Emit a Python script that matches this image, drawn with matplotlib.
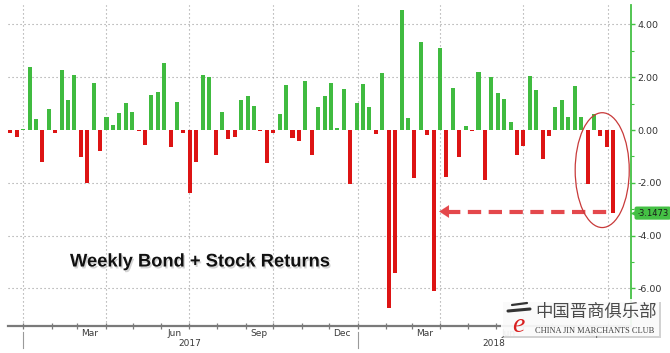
import matplotlib
matplotlib.use("Agg")
import matplotlib.pyplot as plt
import matplotlib.dates as mdates
import matplotlib.patheffects as pe
from matplotlib.patches import Ellipse, FancyBboxPatch
from matplotlib.transforms import blended_transform_factory
import numpy as np
import pandas as pd

plt.rcParams['axes.unicode_minus'] = False
plt.rcParams['font.family'] = ['DejaVu Sans']

# ---------------- data ----------------
week_end = "2018-10-07"
n_weeks = 95
returns = [
    -0.13, -0.25, 0.03, 2.40, 0.42, -1.22, 0.80, -0.10, 2.27, 1.14,
    2.08, -1.03, -2.00, 1.79, -0.78, 0.50, 0.19, 0.66, 1.01, 0.67,
    -0.02, -0.58, 1.33, 1.44, 2.53, -0.63, 1.07, -0.13, -2.40, -1.22,
    2.08, 2.02, -0.95, 0.69, -0.35, -0.25, 1.14, 1.30, 0.91, -0.02,
    -1.24, -0.13, 0.59, 1.70, -0.29, -0.42, 1.86, -0.95, 0.88, 1.30,
    1.77, 0.06, 1.54, -2.05, 1.01, 1.74, 0.88, -0.15, 2.15, -6.75,
    -5.40, 4.55, 0.44, -1.83, 3.35, -0.19, -6.10, 3.09, -1.77, 1.60,
    -1.01, 0.16, -0.02, 2.18, -1.89, 2.02, 1.42, 1.16, 0.29, -0.95,
    -0.59, 2.05, 1.52, -1.08, -0.23, 0.86, 1.14, 0.51, 1.65, 0.51,
    -2.03, 0.59, -0.23, -0.63, -3.1473,
]
y_ticks = [4, 2, 0, -2, -4, -6]
y_tick_labels = ["4.00", "2.00", "0.00", "-2.00", "-4.00", "-6.00"]
month_labels = ["Mar", "Jun", "Sep", "Dec", "Mar", "Jun", "Sep"]
month_label_dates = ["2017-03-15", "2017-06-15", "2017-09-15", "2017-12-15",
                     "2018-03-15", "2018-06-15", "2018-09-15"]
year_labels = ["2017", "2018"]
year_label_dates = ["2017-07-02", "2018-05-30"]
year_starts = ["2017-01-01", "2018-01-01"]
quarter_starts = ["2017-01-01", "2017-04-01", "2017-07-01", "2017-10-01",
                  "2018-01-01", "2018-04-01", "2018-07-01", "2018-10-01"]
title = "Weekly Bond + Stock Returns"
last_label = "-3.1473"

dates = pd.date_range(end=week_end, periods=n_weeks, freq="7D")
vals = np.array(returns)

GREEN = "#40bb40"
RED = "#dd1414"
AXGREEN = "#44c044"

# ---------------- figure ----------------
W, H = 670, 353
fig = plt.figure(figsize=(W / 100, H / 100), dpi=100)
fig.patch.set_facecolor("white")
ax = fig.add_axes([8 / W, 1 - 326 / H, 623 / W, 321 / H])

xnum = mdates.date2num(dates)
colors = [GREEN if v >= 0 else RED for v in vals]
ax.bar(xnum, vals, width=4.4, color=colors, zorder=3, linewidth=0)

ax.set_ylim(-7.424, 4.735)
ax.set_xlim(mdates.date2num(pd.Timestamp("2016-12-15 12:00")),
            mdates.date2num(pd.Timestamp("2018-10-26 10:00")))

# grid
for yv in y_ticks:
    if yv != 0:
        ax.axhline(yv, color="#9a9a9a", lw=0.8, ls=(0, (1, 2.6)), zorder=1)
for q in quarter_starts:
    ax.axvline(mdates.date2num(pd.Timestamp(q)), color="#9a9a9a", lw=0.8,
               ls=(0, (1, 2.6)), zorder=1)

# spines
for s in ["left", "top"]:
    ax.spines[s].set_visible(False)
ax.spines["bottom"].set_color("#7a7a7a")
ax.spines["bottom"].set_linewidth(1.6)
ax.spines["right"].set_color(AXGREEN)
ax.spines["right"].set_linewidth(1.3)

# right y axis
ax.yaxis.tick_right()
ax.set_yticks(y_ticks)
ax.set_yticklabels(y_tick_labels)
ax.set_yticks([3, 1, -1, -3, -5, -7], minor=True)
ax.tick_params(axis="y", which="major", colors=AXGREEN, length=3, width=1,
               pad=1.5, labelsize=6.8, labelcolor="#333333", direction="out")
ax.tick_params(axis="y", which="minor", colors=AXGREEN, length=2, width=0.8,
               direction="out")

# x axis: month ticks, no labels
ax.xaxis.set_major_locator(mdates.MonthLocator(bymonth=[1, 4, 7, 10]))
ax.xaxis.set_minor_locator(mdates.MonthLocator())
ax.xaxis.set_major_formatter(plt.NullFormatter())
ax.tick_params(axis="x", which="both", direction="inout", length=4, width=0.9,
               colors="#7a7a7a")

bt = blended_transform_factory(ax.transData, ax.transAxes)
for lab, d in zip(month_labels, month_label_dates):
    ax.text(mdates.date2num(pd.Timestamp(d)), -7.5 / 321, lab, transform=bt,
            ha="center", va="center", fontsize=6.5, color="#3a3a3a", zorder=1)
for lab, d in zip(year_labels, year_label_dates):
    ax.text(mdates.date2num(pd.Timestamp(d)), -17.5 / 321, lab, transform=bt,
            ha="center", va="center", fontsize=6.5, color="#3a3a3a")
for d in year_starts:
    xd = mdates.date2num(pd.Timestamp(d))
    ax.plot([xd, xd], [-6 / 321, -22 / 321], transform=bt, color="#9a9a9a",
            lw=0.8, clip_on=False)

# last value label on right axis
bty = blended_transform_factory(ax.transAxes, ax.transData)
last_val = vals[-1]
ax.text(1.009, last_val, last_label, transform=bty, ha="left", va="center",
        fontsize=6.0, color="#1a1a1a", zorder=6,
        bbox=dict(boxstyle="round,pad=0.25,rounding_size=0.25",
                  fc=AXGREEN, ec="none"), clip_on=False)
ax.plot([1.005], [last_val], marker="<", ms=5.5, color=AXGREEN,
        transform=bty, clip_on=False, zorder=6, mec="none")

# highlight ellipse around latest weeks
ell_center = mdates.date2num(dates[-3]) + 2
ax.add_patch(Ellipse((ell_center, -1.52), width=59, height=4.35,
                     fill=False, ec="#c83a3a", lw=0.9, zorder=5))

# dashed arrow from last value back to the Feb/Mar 2018 low
arrow_tip = mdates.date2num(dates[66]) + 6
arrow_end = mdates.date2num(dates[-1]) - 4
ax.plot([arrow_tip + 9, arrow_end], [last_val + 0.06] * 2, color="#e4484c",
        lw=3.0, ls=(0, (3.2, 1.8)), solid_capstyle="butt", zorder=4)
ax.annotate("", xy=(arrow_tip, last_val + 0.06),
            xytext=(arrow_tip + 10, last_val + 0.06),
            arrowprops=dict(arrowstyle="-|>,head_length=0.7,head_width=0.45",
                            color="#e4484c", lw=0.1, shrinkA=0, shrinkB=0),
            zorder=4)

# title text
fig.text(70 / W, 1 - 262 / H, title, ha="left", va="center",
         fontsize=13.2, fontweight="bold", color="#111111",
         family="Liberation Sans",
         path_effects=[pe.SimplePatchShadow(offset=(1.0, -1.4), alpha=0.25,
                                            shadow_rgbFace="#555555"),
                       pe.Normal()])

# watermark box
wm_ax = fig.add_axes([0, 0, 1, 1], facecolor="none")
wm_ax.set_xlim(0, W)
wm_ax.set_ylim(H, 0)
wm_ax.axis("off")
wm_ax.add_patch(FancyBboxPatch((503, 302), 158, 36, boxstyle="square,pad=0",
                               fc="#7f7f7f", ec="none", alpha=0.35))
wm_ax.add_patch(FancyBboxPatch((501, 299), 158, 37, boxstyle="square,pad=0",
                               fc="white", ec="none", alpha=0.9))
wm_ax.text(596, 312, "中国晋商俱乐部", ha="center", va="center",
           fontsize=12.5, color="#4a4a4a",
           family=["Noto Sans CJK SC", "DejaVu Sans"])
wm_ax.text(595, 331, "CHINA JIN MARCHANTS CLUB", ha="center", va="center",
           fontsize=6.0, color="#3f3f3f", family="Liberation Serif")
wm_ax.text(518, 325, "e", ha="center", va="center", fontsize=20,
           color="#d92020", style="italic", family="Liberation Serif")
wm_ax.plot([508, 530], [311, 309], color="#333333", lw=2.2,
           solid_capstyle="round")
wm_ax.plot([512, 527], [305, 303], color="#333333", lw=1.6,
           solid_capstyle="round")

fig.savefig("out.png", dpi=100, facecolor="white")
